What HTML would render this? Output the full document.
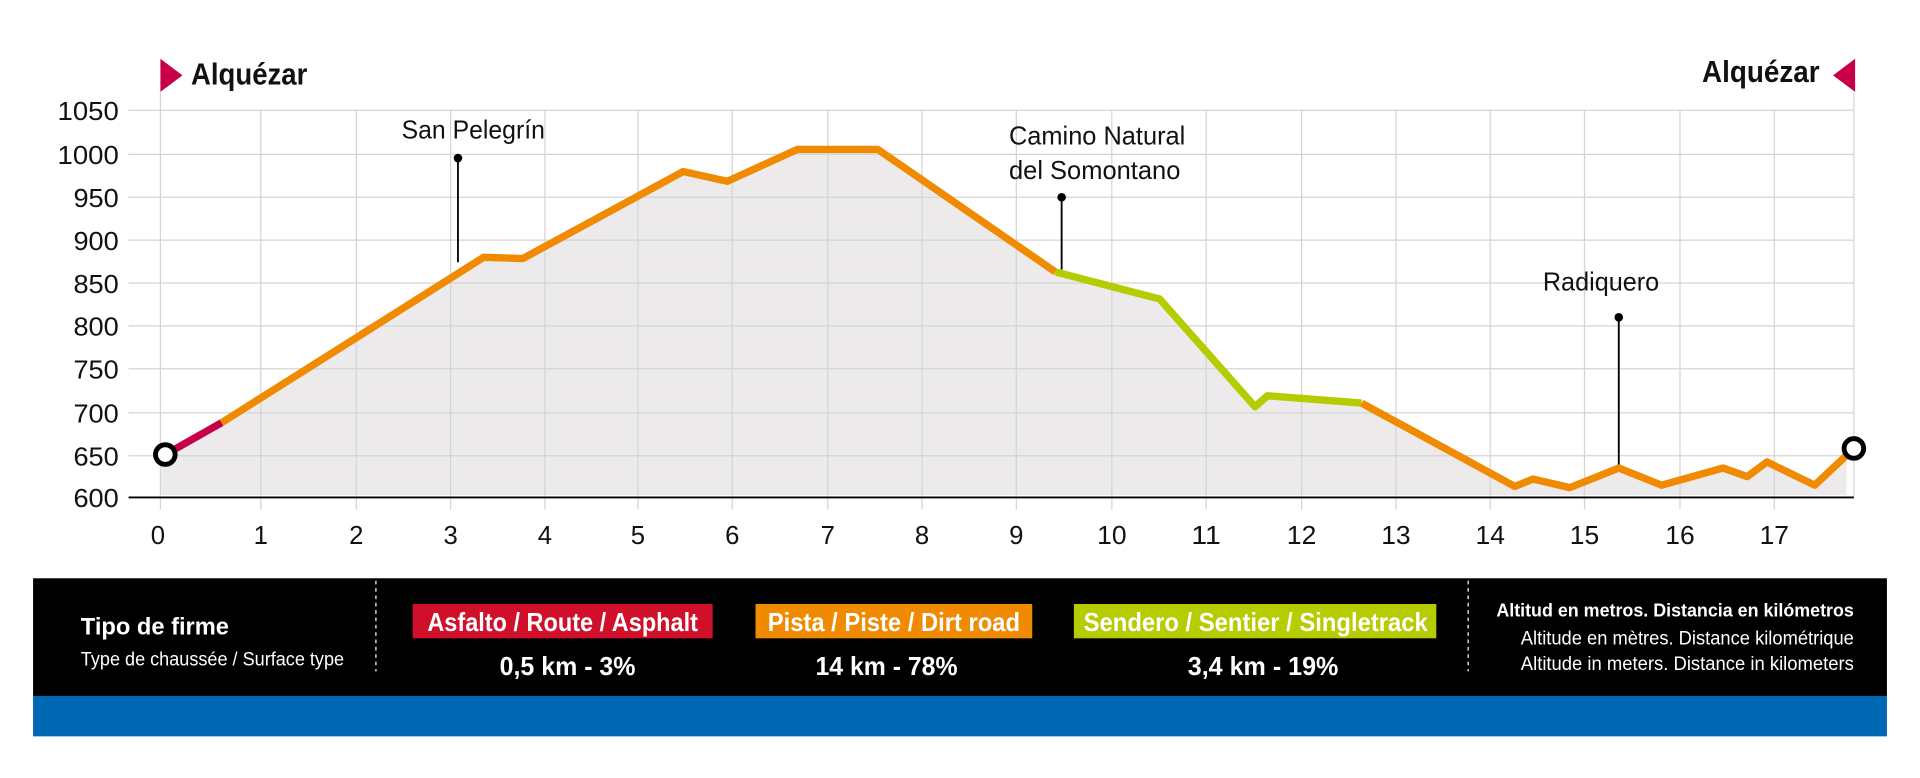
<!DOCTYPE html>
<html><head><meta charset="utf-8"><style>
html,body{margin:0;padding:0;background:#fff;}
svg{display:block;}
text{font-family:"Liberation Sans Narrow","Liberation Sans",sans-serif;}
</style></head><body>
<svg width="1920" height="778" viewBox="0 0 1568 635" preserveAspectRatio="none" xmlns="http://www.w3.org/2000/svg">
<rect width="1568" height="635" fill="#fff"/>
<polygon fill="#eceaea" points="131,404 131,371 135,371 181,345 395,210 427,211 558,140 594,148 651,122 717,122 862,222 947,244 1025,332 1035,323 1112,329 1237,397 1252,391 1282,398 1322,382 1357,396 1407,382 1427,389 1443,377 1482,396 1508,372 1508,404"/>
<g stroke="#d4d4d4" stroke-width="1">
<line x1="105" y1="90" x2="1514" y2="90"/><line x1="105" y1="126" x2="1514" y2="126"/>
<line x1="105" y1="161" x2="1514" y2="161"/><line x1="105" y1="196" x2="1514" y2="196"/>
<line x1="105" y1="231" x2="1514" y2="231"/><line x1="105" y1="266" x2="1514" y2="266"/>
<line x1="105" y1="301" x2="1514" y2="301"/><line x1="105" y1="337" x2="1514" y2="337"/>
<line x1="105" y1="372" x2="1514" y2="372"/>
<line x1="131" y1="75" x2="131" y2="416"/><line x1="213" y1="90" x2="213" y2="416"/>
<line x1="291" y1="90" x2="291" y2="416"/><line x1="368" y1="90" x2="368" y2="416"/>
<line x1="445" y1="90" x2="445" y2="416"/><line x1="521" y1="90" x2="521" y2="416"/>
<line x1="598" y1="90" x2="598" y2="416"/><line x1="676" y1="90" x2="676" y2="416"/>
<line x1="753" y1="90" x2="753" y2="416"/><line x1="830" y1="90" x2="830" y2="416"/>
<line x1="908" y1="90" x2="908" y2="416"/><line x1="985" y1="90" x2="985" y2="416"/>
<line x1="1063" y1="90" x2="1063" y2="416"/><line x1="1140" y1="90" x2="1140" y2="416"/>
<line x1="1217" y1="90" x2="1217" y2="416"/><line x1="1294" y1="90" x2="1294" y2="416"/>
<line x1="1372" y1="90" x2="1372" y2="416"/><line x1="1449" y1="90" x2="1449" y2="416"/>
<line x1="1514" y1="75" x2="1514" y2="406"/>
</g>
<line x1="105" y1="406" x2="1514" y2="406" stroke="#000" stroke-width="1.5"/>
<g font-size="21" text-anchor="end" fill="#111" lengthAdjust="spacingAndGlyphs">
<text x="97" y="98" textLength="50" lengthAdjust="spacingAndGlyphs">1050</text><text x="97" y="134" textLength="50" lengthAdjust="spacingAndGlyphs">1000</text><text x="97" y="169" textLength="37" lengthAdjust="spacingAndGlyphs">950</text>
<text x="97" y="204" textLength="37" lengthAdjust="spacingAndGlyphs">900</text><text x="97" y="239" textLength="37" lengthAdjust="spacingAndGlyphs">850</text><text x="97" y="274" textLength="37" lengthAdjust="spacingAndGlyphs">800</text>
<text x="97" y="309" textLength="37" lengthAdjust="spacingAndGlyphs">750</text><text x="97" y="345" textLength="37" lengthAdjust="spacingAndGlyphs">700</text><text x="97" y="380" textLength="37" lengthAdjust="spacingAndGlyphs">650</text>
<text x="97" y="414" textLength="37" lengthAdjust="spacingAndGlyphs">600</text>
</g>
<g font-size="21" text-anchor="middle" fill="#111">
<text x="129" y="444">0</text><text x="213" y="444">1</text><text x="291" y="444">2</text>
<text x="368" y="444">3</text><text x="445" y="444">4</text><text x="521" y="444">5</text>
<text x="598" y="444">6</text><text x="676" y="444">7</text><text x="753" y="444">8</text>
<text x="830" y="444">9</text><text x="908" y="444" textLength="24" lengthAdjust="spacingAndGlyphs">10</text><text x="985" y="444" textLength="24" lengthAdjust="spacingAndGlyphs">11</text>
<text x="1063" y="444" textLength="24" lengthAdjust="spacingAndGlyphs">12</text><text x="1140" y="444" textLength="24" lengthAdjust="spacingAndGlyphs">13</text><text x="1217" y="444" textLength="24" lengthAdjust="spacingAndGlyphs">14</text>
<text x="1294" y="444" textLength="24" lengthAdjust="spacingAndGlyphs">15</text><text x="1372" y="444" textLength="24" lengthAdjust="spacingAndGlyphs">16</text><text x="1449" y="444" textLength="24" lengthAdjust="spacingAndGlyphs">17</text>
</g>
<g stroke="#000" stroke-width="1.5">
<line x1="374" y1="129" x2="374" y2="214"/>
<line x1="867" y1="161" x2="867" y2="220"/>
<line x1="1322" y1="259" x2="1322" y2="381"/>
</g>
<circle cx="374" cy="129" r="3.5"/><circle cx="867" cy="161" r="3.5"/><circle cx="1322" cy="259" r="3.5"/>
<g font-size="21" fill="#111">
<text x="328" y="113" textLength="117" lengthAdjust="spacingAndGlyphs">San Pelegrín</text>
<text x="824" y="118" textLength="144" lengthAdjust="spacingAndGlyphs">Camino Natural</text>
<text x="824" y="146" textLength="140" lengthAdjust="spacingAndGlyphs">del Somontano</text>
<text x="1260" y="237" textLength="95" lengthAdjust="spacingAndGlyphs">Radiquero</text>
</g>
<g fill="none" stroke-width="6" stroke-linejoin="round">
<polyline stroke="#c8004a" points="135,371 181,345"/>
<polyline stroke="#f08a00" points="181,345 395,210 427,211 558,140 594,148 651,122 717,122 862,222"/>
<polyline stroke="#b5cc00" points="862,222 947,244 1025,332 1035,323 1112,329"/>
<polyline stroke="#f08a00" points="1112,329 1237,397 1252,391 1282,398 1322,382 1357,396 1407,382 1427,389 1443,377 1482,396 1514,366"/>
</g>
<circle cx="135" cy="371" r="8" fill="#fff" stroke="#000" stroke-width="4"/>
<circle cx="1514" cy="366" r="8" fill="#fff" stroke="#000" stroke-width="4"/>
<polygon points="131,48 149,61.5 131,75" fill="#c8004a"/>
<text x="156" y="69" font-size="25" font-weight="bold" fill="#111" textLength="95" lengthAdjust="spacingAndGlyphs">Alquézar</text>
<polygon points="1515,48 1497,61.5 1515,75" fill="#c8004a"/>
<text x="1390" y="67" font-size="25" font-weight="bold" fill="#111" textLength="96" lengthAdjust="spacingAndGlyphs">Alquézar</text>
<rect x="27" y="472" width="1514" height="97" fill="#000"/>
<rect x="27" y="568" width="1514" height="33" fill="#0068b3"/>
<g stroke="#fff" stroke-width="1" stroke-dasharray="3,3">
<line x1="307" y1="474" x2="307" y2="548"/><line x1="1199" y1="474" x2="1199" y2="548"/>
</g>
<text x="66" y="518" font-size="20" font-weight="bold" fill="#fff" textLength="121" lengthAdjust="spacingAndGlyphs">Tipo de firme</text>
<text x="66" y="543" font-size="16" fill="#fff" textLength="215" lengthAdjust="spacingAndGlyphs">Type de chaussée / Surface type</text>
<rect x="337" y="493" width="245" height="28" fill="#d0102b"/>
<rect x="617" y="493" width="226" height="28" fill="#f08a00"/>
<rect x="877" y="493" width="296" height="28" fill="#b5cc00"/>
<g font-size="21" font-weight="bold" fill="#fff">
<text x="349" y="515" textLength="221" lengthAdjust="spacingAndGlyphs">Asfalto / Route / Asphalt</text>
<text x="627" y="515" textLength="206" lengthAdjust="spacingAndGlyphs">Pista / Piste / Dirt road</text>
<text x="885" y="515" textLength="281" lengthAdjust="spacingAndGlyphs">Sendero / Sentier / Singletrack</text>
<text x="408" y="551" textLength="111" lengthAdjust="spacingAndGlyphs">0,5 km - 3%</text>
<text x="666" y="551" textLength="116" lengthAdjust="spacingAndGlyphs">14 km - 78%</text>
<text x="970" y="551" textLength="123" lengthAdjust="spacingAndGlyphs">3,4 km - 19%</text>
</g>
<g fill="#fff">
<text x="1222" y="503" font-size="15" font-weight="bold" textLength="292" lengthAdjust="spacingAndGlyphs">Altitud en metros. Distancia en kilómetros</text>
<text x="1242" y="526" font-size="16" textLength="272" lengthAdjust="spacingAndGlyphs">Altitude en mètres. Distance kilométrique</text>
<text x="1242" y="547" font-size="16" textLength="272" lengthAdjust="spacingAndGlyphs">Altitude in meters. Distance in kilometers</text>
</g>
</svg>
</body></html>
